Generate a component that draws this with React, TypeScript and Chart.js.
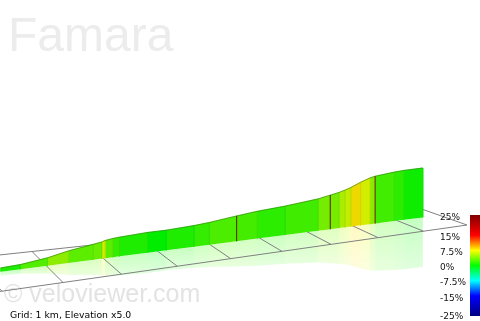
import { useEffect, useRef } from 'react';
import { Chart, registerables } from 'chart.js';

Chart.register(...registerables);

// ---------- data ----------
const titleText = 'Famara';
const distanceKm = [0, 0.33, 0.79, 1.15, 1.59, 1.74, 1.8, 1.94, 2.06, 2.58, 2.93, 3.46, 3.76, 4.3, 4.72, 5.3, 5.99, 6.26, 6.45, 6.58, 6.71, 6.93, 7.14, 7.26, 7.7, 7.92, 8.37];
const elevationM = [14, 17, 29, 45, 58, 63, 67, 71, 73, 78, 78, 83, 88, 101, 110, 118, 132, 142, 149, 156, 164, 182, 196, 201, 210, 213, 215];
const markerKm = [4.3, 6.26, 7.26];
const gradeTicks = [25, 15, 7.5, 0, -7.5, -15, -25];
const gradeTickLabels = ['25%', '15%', '7.5%', '0%', '-7.5%', '-15%', '-25%'];
const gridStepKm = 1;
const gridOffsetKm = 0.77; // route distance at which a grid line falls
const gridRange = [-2, 8]; // grid extent, in grid km
const elevationExaggeration = 5;
const footerText = 'Grid: 1 km, Elevation x5.0';
const watermarkText = '\u00a9 veloviewer.com';

// ---------- camera / layout ----------
const CAM = {
  BL: [32, 251.5],
  BR: [423, 209.5],
  FL: [63, 282.5],
  FR: [467, 225],
  span: 8,
  persp: 0.183,
  vScale: 0.054,
  sideStart: 0.47,
  sideEnd: 0.38,
};
const BAR = { x: 470, w: 10, top: 215, bottom: 316, labelX: 440 };

function tOf(d: number) {
  const u = d / CAM.span;
  return (u * (1 + CAM.persp)) / (1 + CAM.persp * u);
}
function ground(d: number, w: number) {
  const t = tOf(d);
  const bx = CAM.BL[0] + (CAM.BR[0] - CAM.BL[0]) * t;
  const by = CAM.BL[1] + (CAM.BR[1] - CAM.BL[1]) * t;
  const fx = CAM.FL[0] + (CAM.FR[0] - CAM.FL[0]) * t;
  const fy = CAM.FL[1] + (CAM.FR[1] - CAM.FL[1]) * t;
  return { x: bx + (fx - bx) * w, y: by + (fy - by) * w };
}
function vk(d: number) {
  return (CAM.vScale * elevationExaggeration) / (1 + (CAM.persp * d) / CAM.span);
}
const totalKm = distanceKm[distanceKm.length - 1];
function routeBase(s: number) {
  const w = CAM.sideStart + ((CAM.sideEnd - CAM.sideStart) * s) / totalKm;
  return ground(s - gridOffsetKm, w);
}
function routePoint(s: number, e: number, sign = -1) {
  const b = routeBase(s);
  return { x: b.x, y: b.y + sign * e * vk(s - gridOffsetKm) };
}
function elevAt(s: number) {
  for (let i = 0; i < distanceKm.length - 1; i++) {
    if (s >= distanceKm[i] && s <= distanceKm[i + 1]) {
      const f = (s - distanceKm[i]) / (distanceKm[i + 1] - distanceKm[i]);
      return elevationM[i] + f * (elevationM[i + 1] - elevationM[i]);
    }
  }
  return elevationM[elevationM.length - 1];
}

const STOPS: [number, number[]][] = [
  [-25, [0, 0, 128]],
  [-15, [0, 0, 255]],
  [-7.5, [0, 255, 255]],
  [0, [0, 255, 0]],
  [7.5, [255, 255, 0]],
  [15, [255, 0, 0]],
  [25, [128, 0, 0]],
];
function gradeRGB(g: number) {
  if (g <= STOPS[0][0]) return STOPS[0][1];
  for (let i = 0; i < STOPS.length - 1; i++) {
    const [g0, c0] = STOPS[i];
    const [g1, c1] = STOPS[i + 1];
    if (g >= g0 && g <= g1) {
      const f = (g - g0) / (g1 - g0);
      return c0.map((v, k) => Math.round(v + (c1[k] - v) * f));
    }
  }
  return STOPS[STOPS.length - 1][1];
}
function rgba(c: number[], shade: number, a = 1) {
  return `rgba(${Math.round(c[0] * shade)},${Math.round(c[1] * shade)},${Math.round(c[2] * shade)},${a})`;
}

export default function App() {
  const ref = useRef<HTMLCanvasElement | null>(null);

  useEffect(() => {
    if (!ref.current) return;
    const datasets: any[] = [];

    // reflections
    for (let i = 0; i < distanceKm.length - 1; i++) {
      const s0 = distanceKm[i], s1 = distanceKm[i + 1];
      const e0 = elevationM[i], e1 = elevationM[i + 1];
      const grade = ((e1 - e0) / ((s1 - s0) * 1000)) * 100;
      const c = gradeRGB(grade);
      const b0 = routeBase(s0), b1 = routeBase(s1);
      const m0 = routePoint(s0, e0, 1), m1 = routePoint(s1, e1, 1);
      datasets.push({
        data: [b0, b1, m1, m0],
        showLine: true,
        fill: 'shape',
        borderWidth: 0,
        pointRadius: 0,
        order: 5,
        backgroundColor: (ctx: any) => {
          const chart = ctx.chart;
          const ys = chart && chart.scales && chart.scales.y;
          const fallback = rgba(c, 1, 0.18);
          if (!ys || !chart.chartArea) return fallback;
          const ya = ys.getPixelForValue((b0.y + b1.y) / 2);
          const yb = ys.getPixelForValue((m0.y + m1.y) / 2);
          if (!isFinite(ya) || !isFinite(yb)) return fallback;
          const g = chart.ctx.createLinearGradient(0, ya, 0, Math.max(yb, ya + 1));
          g.addColorStop(0, rgba(c, 1, 0.24));
          g.addColorStop(1, rgba(c, 1, 0.13));
          return g;
        },
      });
    }

    // ground grid
    const gridLine = (pts: any[]) => ({
      data: pts,
      showLine: true,
      fill: false,
      borderColor: '#808080',
      borderWidth: 1,
      pointRadius: 0,
      order: 4,
    });
    datasets.push(gridLine([ground(gridRange[0], 0), ground(gridRange[1], 0)]));
    datasets.push(gridLine([ground(gridRange[0], 1), ground(gridRange[1], 1)]));
    for (let d = gridRange[0]; d <= gridRange[1]; d += gridStepKm) {
      datasets.push(gridLine([ground(d, 0), ground(d, 1)]));
    }

    // wall segments
    for (let i = 0; i < distanceKm.length - 1; i++) {
      const s0 = distanceKm[i], s1 = distanceKm[i + 1];
      const e0 = elevationM[i], e1 = elevationM[i + 1];
      const grade = ((e1 - e0) / ((s1 - s0) * 1000)) * 100;
      const c = gradeRGB(grade);
      datasets.push({
        data: [routeBase(s0), routePoint(s0, e0), routePoint(s1, e1), routeBase(s1)],
        showLine: true,
        fill: 'shape',
        backgroundColor: rgba(c, 0.93),
        borderColor: rgba(c, 0.88),
        borderWidth: 0.6,
        pointRadius: 0,
        order: 3,
      });
    }

    // top outline
    datasets.push({
      data: distanceKm.map((s, i) => routePoint(s, elevationM[i])),
      showLine: true,
      fill: false,
      borderColor: 'rgba(40,120,0,0.55)',
      borderWidth: 1,
      pointRadius: 0,
      order: 2,
    });

    // markers
    markerKm.forEach((s) => {
      datasets.push({
        data: [routeBase(s), routePoint(s, elevAt(s))],
        showLine: true,
        fill: false,
        borderColor: '#6a1c02',
        borderWidth: 1,
        pointRadius: 0,
        order: 1,
      });
    });

    const textPlugin = {
      id: 'texts',
      beforeDatasetsDraw(chart: any) {
        const ctx = chart.ctx;
        ctx.save();
        ctx.textBaseline = 'alphabetic';
        ctx.textAlign = 'left';
        ctx.fillStyle = '#ececec';
        ctx.font = '48px "Liberation Sans", Arial, sans-serif';
        ctx.fillText(titleText, 8, 51);
        ctx.fillStyle = '#e3e3e3';
        ctx.font = '25px "Liberation Sans", Arial, sans-serif';
        ctx.fillText(watermarkText, 4, 302);
        ctx.restore();
      },
      afterDatasetsDraw(chart: any) {
        const ctx = chart.ctx;
        const ys = chart.scales.y;
        const xs = chart.scales.x;
        const gy = (g: number) => ys.getPixelForValue(BAR.top + ((25 - g) / 50) * (BAR.bottom - BAR.top));
        ctx.save();
        const top = gy(25), bot = gy(-25);
        const grad = ctx.createLinearGradient(0, top, 0, bot);
        STOPS.forEach(([g, c]) => grad.addColorStop((25 - g) / 50, `rgb(${c[0]},${c[1]},${c[2]})`));
        ctx.fillStyle = grad;
        const x0 = xs.getPixelForValue(BAR.x);
        ctx.fillRect(x0, top, xs.getPixelForValue(BAR.x + BAR.w) - x0, bot - top);
        ctx.fillStyle = '#111';
        ctx.font = '9px "DejaVu Sans", Verdana, sans-serif';
        ctx.textBaseline = 'middle';
        ctx.textAlign = 'left';
        gradeTicks.forEach((g, i) => {
          const y = g === -25 ? gy(g) + 1 : gy(g) + 2.5;
          ctx.fillText(gradeTickLabels[i], xs.getPixelForValue(BAR.labelX), y);
        });
        ctx.textBaseline = 'alphabetic';
        ctx.fillStyle = '#000';
        ctx.font = '9.3px "DejaVu Sans", Verdana, sans-serif';
        ctx.fillText(footerText, 10, 318);
        ctx.restore();
      },
    };

    const chart = new Chart(ref.current, {
      type: 'scatter',
      data: { datasets },
      options: {
        animation: false,
        responsive: false,
        events: [],
        layout: { padding: 0 },
        scales: {
          x: { type: 'linear', min: 0, max: 480, display: false },
          y: { type: 'linear', min: 0, max: 321, reverse: true, display: false },
        },
        plugins: { legend: { display: false }, tooltip: { enabled: false } },
        elements: { line: { tension: 0 }, point: { radius: 0 } },
      },
      plugins: [textPlugin],
    } as any);
    return () => chart.destroy();
  }, []);

  return (
    <div style={{ position: 'fixed', left: 0, top: 0, width: 480, height: 321, background: '#fff' }}>
      <canvas ref={ref} width={480} height={321} style={{ display: 'block' }} />
    </div>
  );
}
